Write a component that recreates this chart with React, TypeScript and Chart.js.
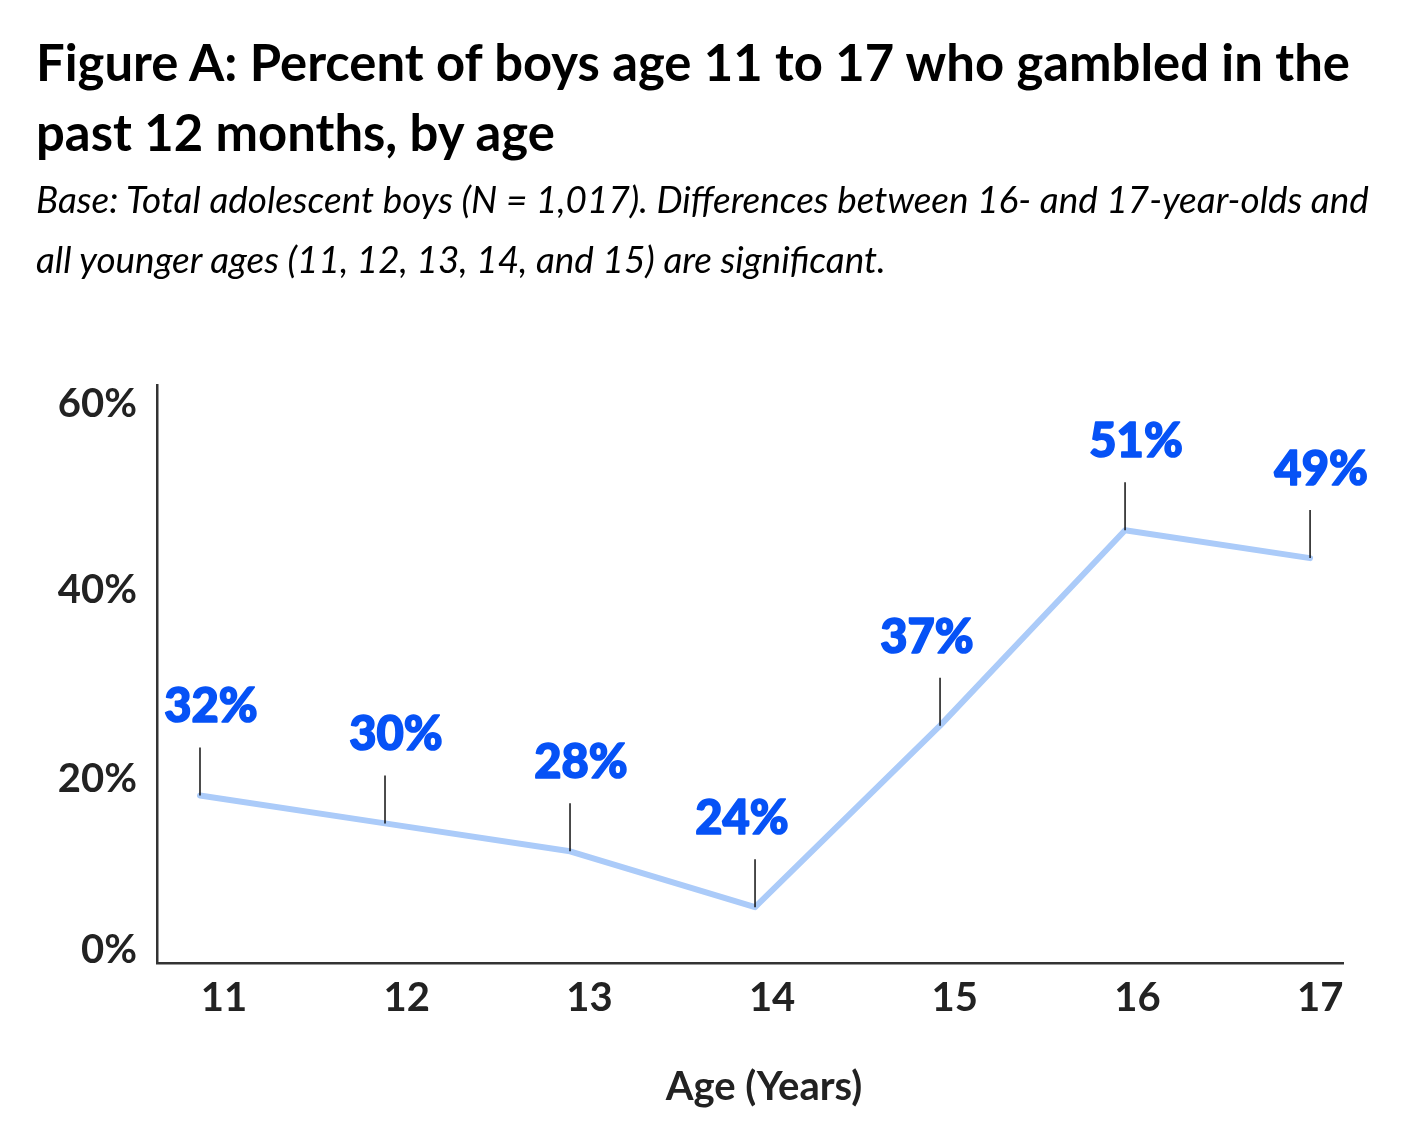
import React, { useEffect, useRef } from "react";
import { Chart, registerables } from "chart.js";

Chart.register(...registerables);

// ages on the x axis, percent who gambled (as printed above each point)
const ages = [11, 12, 13, 14, 15, 16, 17];
const percentGambled = [32, 30, 28, 24, 37, 51, 49];

// the printed y ticks sit at these values on the plotted scale
const yTickValues = [20.9, 33.2, 46.7, 60];
const yTickLabels = ["0%", "20%", "40%", "60%"];

const FONT = "Lato, 'Noto Sans', sans-serif";

const pointLabels = {
  id: "pointLabels",
  afterDatasetsDraw(chart: any) {
    const { ctx, chartArea } = chart;
    const meta = chart.getDatasetMeta(0);
    ctx.save();
    meta.data.forEach((pt: any, i: number) => {
      const { x, y } = pt.getProps(["x", "y"], true);
      ctx.strokeStyle = "#111";
      ctx.lineWidth = 1.5;
      ctx.beginPath();
      ctx.moveTo(x, y);
      ctx.lineTo(x, y - 48);
      ctx.stroke();

      // labels move left where the line climbs to the right
      const next = percentGambled[i + 1];
      const shift = next !== undefined && next > percentGambled[i] ? -13 : 11;
      const text = `${percentGambled[i]}%`;
      ctx.fillStyle = "#0652f6";
      ctx.strokeStyle = "#0652f6";
      ctx.lineWidth = 1.6;
      ctx.lineJoin = "round";
      ctx.font = `900 47px ${FONT}`;
      ctx.textAlign = "center";
      ctx.textBaseline = "alphabetic";
      ctx.fillText(text, x + shift, y - 73);
      ctx.strokeText(text, x + shift, y - 73);
    });

    ctx.fillStyle = "#222";
    ctx.font = `bold 40px ${FONT}`;
    ctx.textAlign = "center";
    ctx.textBaseline = "alphabetic";
    ctx.fillText("Age (Years)", (chartArea.left + chartArea.right) / 2 + 14, chartArea.bottom + 137);
    ctx.restore();
  },
};

const GambleChart: React.FC = () => {
  const canvasRef = useRef<HTMLCanvasElement>(null);
  const chartRef = useRef<Chart | null>(null);

  useEffect(() => {
    if (!canvasRef.current) return;
    if (chartRef.current) chartRef.current.destroy();

    chartRef.current = new Chart(canvasRef.current, {
      type: "line",
      data: {
        datasets: [
          {
            data: ages.map((a, i) => ({ x: a, y: percentGambled[i] })),
            xAxisID: "x",
            borderColor: "#abcbf9",
            borderWidth: 6,
            borderCapStyle: "round",
            borderJoinStyle: "round",
            pointRadius: 0,
            tension: 0,
            clip: false as any,
          },
        ],
      },
      options: {
        animation: false,
        responsive: true,
        maintainAspectRatio: false,
        layout: { padding: { top: 377, left: 0, right: 57, bottom: 0 } },
        plugins: {
          legend: { display: false },
          tooltip: { enabled: false },
        },
        scales: {
          // plotting axis: carries the points and the axis line
          x: {
            type: "linear",
            position: "bottom",
            min: 10.7676,
            max: 17.178,
            grid: { display: false, drawTicks: false },
            border: { display: true, color: "#333", width: 2.5 },
            ticks: { display: false },
            afterFit: (scale: any) => {
              scale.height = 0;
            },
          },
          // label axis: the age labels sit a little to the right of the points
          xLabels: {
            type: "linear",
            position: "bottom",
            min: 10.6333,
            max: 17.125,
            grid: { display: false, drawTicks: false },
            border: { display: false },
            afterBuildTicks: (scale: any) => {
              scale.ticks = ages.map((v) => ({ value: v }));
            },
            afterFit: (scale: any) => {
              scale.height = 165;
            },
            ticks: {
              autoSkip: false,
              maxRotation: 0,
              padding: 11,
              color: "#222",
              font: { family: FONT, size: 40, weight: "bold" },
              callback: (v: any) => String(v),
            },
          },
          y: {
            type: "linear",
            min: 20,
            max: 61.4,
            grid: { display: false, drawTicks: false },
            border: { display: true, color: "#333", width: 2.5 },
            afterBuildTicks: (scale: any) => {
              scale.ticks = yTickValues.map((v) => ({ value: v }));
            },
            afterFit: (scale: any) => {
              scale.width = 149;
            },
            ticks: {
              padding: 20,
              color: "#222",
              font: { family: FONT, size: 40, weight: "bold" },
              callback: (_v: any, i: number) => yTickLabels[i],
            },
          },
        },
      },
      plugins: [pointLabels],
    });

    return () => {
      if (chartRef.current) {
        chartRef.current.destroy();
        chartRef.current = null;
      }
    };
  }, []);

  return (
    <div style={{ position: "relative", width: 1392, height: 1120, fontFamily: FONT }}>
      <div
        style={{
          position: "absolute",
          left: 28,
          top: 19,
          fontSize: 50.8,
          lineHeight: "70px",
          fontWeight: 700,
          color: "#000",
          whiteSpace: "nowrap",
        }}
      >
        Figure A: Percent of boys age 11 to 17 who gambled in the
        <br />
        past 12 months, by age
      </div>
      <div
        style={{
          position: "absolute",
          left: 28,
          top: 161,
          fontSize: 36.9,
          lineHeight: "60px",
          fontStyle: "italic",
          color: "#000",
          whiteSpace: "nowrap",
        }}
      >
        Base: Total adolescent boys (N = 1,017). Differences between 16- and 17-year-olds and
        <br />
        all younger ages (11, 12, 13, 14, and 15) are significant.
      </div>
      <canvas ref={canvasRef} />
    </div>
  );
};

export default function App() {
  return <GambleChart />;
}
